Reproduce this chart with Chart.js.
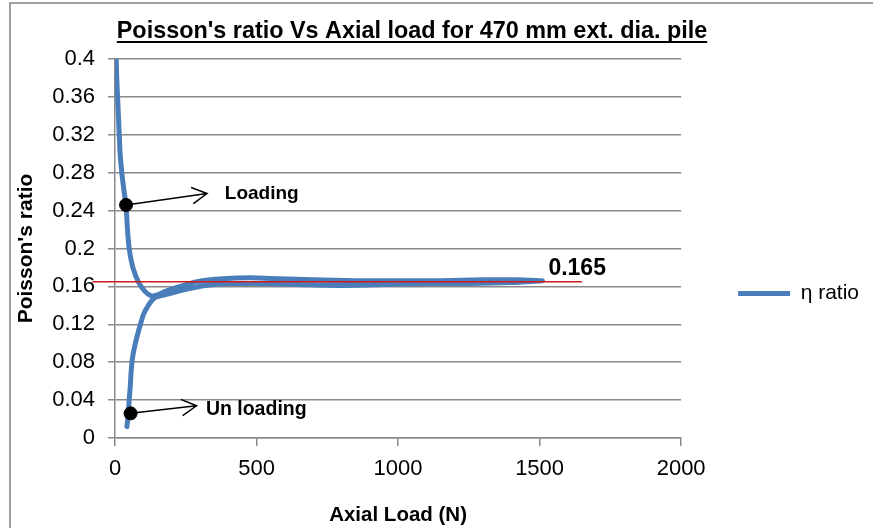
<!DOCTYPE html>
<html>
<head>
<meta charset="utf-8">
<script src="https://cdn.jsdelivr.net/npm/chart.js@4/dist/chart.umd.min.js"></script>
<style>
  html, body { margin: 0; padding: 0; background: #fff; overflow: hidden; }
  #wrap { position: relative; width: 873px; height: 528px; }
  #frame { position: absolute; left: 9px; top: 2px; width: 900px; height: 600px;
           border-left: 2px solid #a0a0a0; border-top: 2px solid #a0a0a0; pointer-events: none; }
</style>
</head>
<body>
<div id="wrap">
  <canvas id="chart" width="873" height="528"></canvas>
  <div id="frame"></div>
</div>
<script>
// loading branch: axial load (N) and Poisson's ratio
const loadingLoad  = [4, 6, 9, 12, 15, 18, 24, 32, 39, 44, 50, 63, 82, 105, 128, 150, 180, 230, 290, 380, 480, 580, 700, 850, 1000, 1150, 1300, 1420, 1510];
const loadingRatio = [0.400, 0.380, 0.360, 0.340, 0.320, 0.300, 0.280, 0.260, 0.246, 0.220, 0.200, 0.180, 0.165, 0.155, 0.150, 0.151, 0.155, 0.160, 0.165, 0.168, 0.169, 0.168, 0.167, 0.166, 0.166, 0.166, 0.167, 0.167, 0.166];

// unloading branch (back from the top load)
const unloadingLoad  = [1510, 1400, 1250, 1100, 950, 800, 650, 500, 400, 320, 250, 200, 160, 140, 120, 100, 85, 72, 62, 57, 54, 50, 47, 42];
const unloadingRatio = [0.166, 0.164, 0.163, 0.163, 0.162, 0.161, 0.162, 0.163, 0.163, 0.161, 0.157, 0.153, 0.150, 0.148, 0.141, 0.130, 0.115, 0.100, 0.085, 0.070, 0.055, 0.040, 0.026, 0.012];

// reference value line
const refValue = 0.165;
const refLineLoad = [-80, 1650];

// marked points with arrows (load, ratio)
const markLoad = [39, 0.246];
const markUnload = [55, 0.026];
const tipLoad = [325, 0.258];
const tipUnload = [288, 0.034];

// text anchors (load, ratio)
const loadText = [388, 0.258];
const unloadText = [321, 0.030];
const refText = [1531, 0.179];

const xTicks = [0, 500, 1000, 1500, 2000];
const yTicks = [0, 0.04, 0.08, 0.12, 0.16, 0.2, 0.24, 0.28, 0.32, 0.36, 0.4];

const FONT = "'Liberation Sans', Arial, sans-serif";
const GRID = '#8a8a8a';

const seriesData = loadingLoad.map((x, i) => ({ x, y: loadingRatio[i] }))
  .concat(unloadingLoad.map((x, i) => ({ x, y: unloadingRatio[i] })));

function arrow(ctx, x0, y0, x1, y1) {
  const a = Math.atan2(y1 - y0, x1 - x0);
  const len = 17, spread = 0.5;
  ctx.beginPath();
  ctx.moveTo(x0, y0);
  ctx.lineTo(x1, y1);
  ctx.moveTo(x1 - len * Math.cos(a - spread), y1 - len * Math.sin(a - spread));
  ctx.lineTo(x1, y1);
  ctx.lineTo(x1 - len * Math.cos(a + spread), y1 - len * Math.sin(a + spread));
  ctx.stroke();
}

const annotate = {
  id: 'annotate',
  afterDatasetsDraw(chart) {
    const { ctx, scales: { x, y } } = chart;
    const px = p => [x.getPixelForValue(p[0]), y.getPixelForValue(p[1])];
    ctx.save();
    ctx.strokeStyle = '#000';
    ctx.lineWidth = 1.5;
    arrow(ctx, ...px(markLoad), ...px(tipLoad));
    arrow(ctx, ...px(markUnload), ...px(tipUnload));

    ctx.fillStyle = '#000';
    ctx.textBaseline = 'middle';
    ctx.textAlign = 'left';
    ctx.font = 'bold 19px ' + FONT;
    ctx.fillText('Loading', ...px(loadText));
    ctx.font = 'bold 19.5px ' + FONT;
    ctx.fillText('Un loading', ...px(unloadText));
    ctx.font = 'bold 23px ' + FONT;
    ctx.fillText('0.165', ...px(refText));
    ctx.restore();
  },
  afterDraw(chart) {
    // underlined chart title
    const { ctx } = chart;
    const text = "Poisson's ratio Vs Axial load for 470 mm ext. dia. pile";
    ctx.save();
    ctx.font = 'bold 23.4px ' + FONT;
    ctx.fillStyle = '#000';
    ctx.textAlign = 'center';
    ctx.textBaseline = 'alphabetic';
    const cx = 412;
    ctx.fillText(text, cx, 38);
    const w = ctx.measureText(text).width;
    ctx.fillRect(cx - w / 2, 41, w, 2);
    ctx.restore();
  }
};

new Chart(document.getElementById('chart'), {
  type: 'scatter',
  data: {
    datasets: [
      {
        label: 'η ratio',
        data: seriesData,
        showLine: true,
        borderColor: '#4a7ebb',
        backgroundColor: '#4a7ebb',
        borderWidth: 5,
        borderCapStyle: 'round',
        borderJoinStyle: 'round',
        pointRadius: 0,
        tension: 0.2,
        order: 2
      },
      {
        label: 'ref',
        data: refLineLoad.map(x => ({ x, y: refValue })),
        showLine: true,
        borderColor: '#d11a1a',
        borderWidth: 1.5,
        pointRadius: 0,
        clip: false,
        order: 1
      },
      {
        label: 'marks',
        data: [markLoad, markUnload].map(p => ({ x: p[0], y: p[1] })),
        pointRadius: 6.5,
        pointBackgroundColor: '#000',
        pointBorderColor: '#000',
        order: 0
      }
    ]
  },
  options: {
    responsive: false,
    animation: false,
    events: [],
    layout: { padding: { left: 0, right: 4, top: 59, bottom: 0 } },
    plugins: {
      tooltip: { enabled: false },
      title: { display: false },
      legend: {
        position: 'right',
        maxWidth: 196,
        labels: {
          filter: item => item.datasetIndex === 0,
          usePointStyle: true,
          pointStyle: 'line',
          pointStyleWidth: 52,
          padding: 57,
          color: '#000',
          font: { family: FONT, size: 21 }
        }
      }
    },
    scales: {
      x: {
        type: 'linear',
        min: 0,
        max: 2000,
        afterBuildTicks: s => { s.ticks = xTicks.map(v => ({ value: v })); },
        grid: { drawOnChartArea: false, color: GRID, lineWidth: 1.5, tickLength: 8 },
        border: { color: GRID, width: 1.5 },
        ticks: { color: '#000', padding: 10, font: { family: FONT, size: 22 }, callback: v => String(v) },
        title: {
          display: true, text: 'Axial Load (N)', color: '#000',
          font: { family: FONT, size: 20.5, weight: 'bold' },
          padding: { top: 11, bottom: 0 }
        }
      },
      y: {
        type: 'linear',
        min: 0,
        max: 0.4,
        afterBuildTicks: s => { s.ticks = yTicks.map(v => ({ value: v })); },
        grid: { color: GRID, lineWidth: 1.5, tickLength: 7 },
        border: { color: GRID, width: 1.5 },
        ticks: {
          color: '#000', padding: 13, font: { family: FONT, size: 22 },
          callback: v => String(Number(v.toFixed(2)))
        },
        title: {
          display: true, text: "Poisson's ratio", color: '#000',
          font: { family: FONT, size: 21, weight: 'bold' },
          padding: { top: 14, bottom: 0 }
        }
      }
    }
  },
  plugins: [annotate]
});
</script>
</body>
</html>
